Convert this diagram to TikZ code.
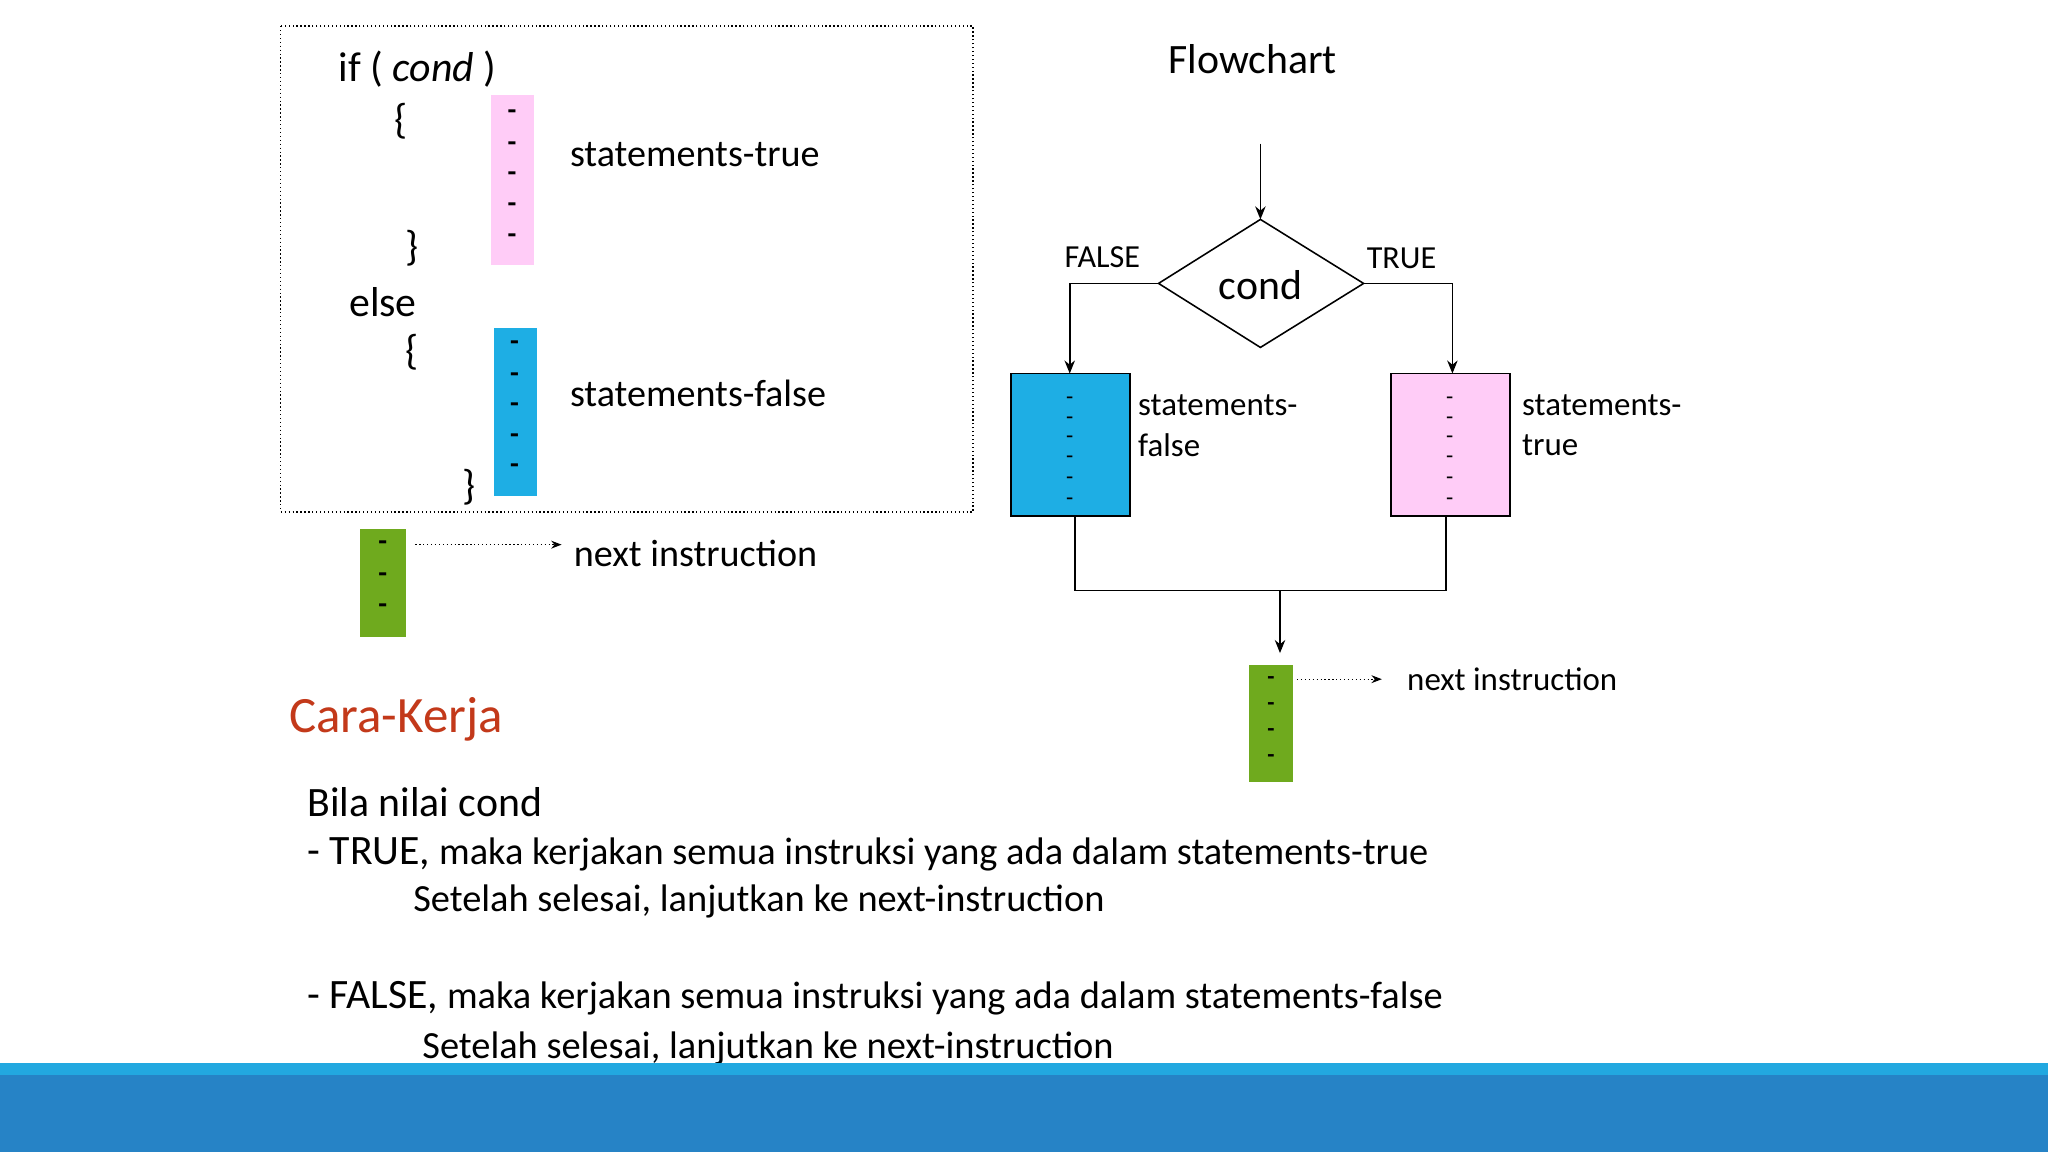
\documentclass[tikz,border=0pt]{standalone}
\usepackage{fontspec}
\setmainfont{Carlito}
\usetikzlibrary{arrows.meta}
\definecolor{pinkf}{HTML}{FFCCF7}
\definecolor{bluef}{HTML}{1EAEE4}
\definecolor{greenf}{HTML}{6FAA1E}
\definecolor{redt}{HTML}{C3391A}
\definecolor{barlight}{HTML}{22A8E0}
\definecolor{bardark}{HTML}{2683C6}
\tikzset{
 lbl/.style={inner sep=0pt,anchor=west,font=\fontsize{14.6}{16}\selectfont},
 dsh/.style={inner sep=0pt,font=\fontsize{11}{11}\selectfont\bfseries},
 sdsh/.style={inner sep=0pt,font=\fontsize{9}{9}\selectfont},
 ln/.style={line width=0.6pt},
 arr/.style={ln,-{Stealth[length=5pt,width=4pt]}},
 darr/.style={densely dotted,line width=0.5pt,-{Stealth[length=4pt,width=3pt]}},
 body/.style={inner sep=0pt,anchor=west,font=\fontsize{14.7}{16}\selectfont},
}
\begin{document}
\begin{tikzpicture}[x=0.5pt,y=-0.5pt]
\useasboundingbox (0,0) rectangle (1568,882);
\fill[white] (0,0) rectangle (1568,882);
% code box
\draw[densely dotted,line width=0.5pt] (215,20) rectangle (745,392);
\node[lbl,font=\fontsize{16}{18}\selectfont] (ifc) at (259,53) {if ( \textit{cond} )};
\node[lbl,font=\fontsize{16}{18}\selectfont] (b1) at (302,93) {\{};
\node[lbl,font=\fontsize{16}{18}\selectfont] (b2) at (310,190) {\}};
\node[lbl,font=\fontsize{16}{18}\selectfont] (els) at (267,231) {else};
\node[lbl,font=\fontsize{16}{18}\selectfont] (b3) at (310,270) {\{};
\node[lbl,font=\fontsize{16}{18}\selectfont] (b4) at (354,373) {\}};
\fill[pinkf] (376,73) rectangle (409,203);
\foreach \y in {88,112,135,159,183} \node[dsh] at (392,\y) {-};
\fill[bluef] (378,251) rectangle (411,380);
\foreach \y in {265,289,312,336,359} \node[dsh] at (394,\y) {-};
\node[lbl] (st) at (436,118) {statements-true};
\node[lbl] (sf) at (436,301) {statements-false};
\fill[greenf] (276,405) rectangle (311,488);
\foreach \y in {418,442,466} \node[dsh] at (293,\y) {-};
\coordinate (g1) at (318,417);
\node[lbl] (ni1) at (439,424) {next instruction};
\draw[darr] (g1) -- (430,417);
% Cara kerja
\node[lbl,font=\fontsize{19.5}{21}\selectfont,text=redt] (ck) at (221,551) {Cara-Kerja};
\node[body,font=\fontsize{16}{18}\selectfont] (bila) at (235,614) {Bila nilai cond};
\node[body] (t1) at (235,654) {{\fontsize{16}{18}\selectfont - TRUE,} maka kerjakan semua instruksi yang ada dalam statements-true};
\node[body] (t2) at (316,690) {Setelah selesai, lanjutkan ke next-instruction};
\node[body] (f1) at (235,764) {{\fontsize{16}{18}\selectfont - FALSE,} maka kerjakan semua instruksi yang ada dalam statements-false};
\node[body] (f2) at (323,803) {Setelah selesai, lanjutkan ke next-instruction};
% bar
\fill[barlight] (0,814) rectangle (1568,823);
\fill[bardark] (0,823) rectangle (1568,882);
% flowchart
\node[inner sep=0pt,font=\fontsize{16}{18}\selectfont] (fc) at (959,45) {Flowchart};
\coordinate (top) at (965,110);
\coordinate (dT) at (965,168);
\coordinate (dL) at (887,217);
\coordinate (dR) at (1044,217);
\coordinate (dB) at (965,266);
\draw[ln] (dT) -- (dR) -- (dB) -- (dL) -- cycle;
\node[inner sep=0pt,font=\fontsize{16}{18}\selectfont] (cond) at (965,218) {cond};
\draw[arr] (top) -- (dT);
\node[inner sep=0pt,font=\fontsize{12.3}{14}\selectfont] (fl) at (844,197) {FALSE};
\node[inner sep=0pt,font=\fontsize{12.3}{14}\selectfont] (tr) at (1073,198) {TRUE};
\draw[ln,fill=bluef] (774,286) rectangle (865,395);
\draw[ln,fill=pinkf] (1065,286) rectangle (1156,395);
\foreach \y in {307,322,337,352,368,384} {\node[sdsh] at (819,\y) {-}; \node[sdsh] at (1110,\y) {-};}
\coordinate (bT) at (819,286);
\coordinate (pT) at (1112,286);
\draw[arr] (dL) -| (bT);
\draw[arr] (dR) -| (pT);
\node[lbl,font=\fontsize{12.6}{14}\selectfont] (sfa) at (871,310) {statements-};
\node[lbl,font=\fontsize{12.6}{14}\selectfont] (sfb) at (871,341) {false};
\node[lbl,font=\fontsize{12.6}{14}\selectfont] (sta) at (1165,310) {statements-};
\node[lbl,font=\fontsize{12.6}{14}\selectfont] (stb) at (1165,341) {true};
\draw[ln] (823,395) -- (823,452) -- (1107,452) -- (1107,395);
\coordinate (mj) at (980,452);
\fill[greenf] (956,509) rectangle (990,599);
\foreach \y in {521,541,561,581} \node[dsh,font=\fontsize{9}{9}\selectfont\bfseries] at (973,\y) {-};
\draw[arr] (mj) -- (980,500);
\node[lbl,font=\fontsize{12.6}{14}\selectfont] (ni2) at (1077,520) {next instruction};
\draw[darr] (993,520) -- (1058,520);
\end{tikzpicture}
\end{document}
